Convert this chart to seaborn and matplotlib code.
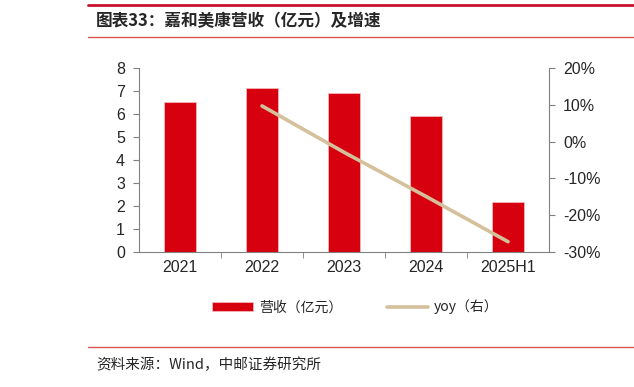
import numpy as np
import pandas as pd
import seaborn as sns
import matplotlib.pyplot as plt
from matplotlib.patches import Patch
from matplotlib.lines import Line2D
from matplotlib.ticker import PercentFormatter

# Data
years = ['2021', '2022', '2023', '2024', '2025H1']
revenue = [6.51, 7.14, 6.93, 5.90, 2.17]           # 营收（亿元）
yoy = [np.nan, 9.7, -2.9, -14.9, -27.2]             # 增速 %

sns.set_style('white')
plt.rcParams['font.family'] = ['Liberation Sans', 'Noto Sans CJK SC', 'DejaVu Sans']
plt.rcParams['axes.unicode_minus'] = False

df = pd.DataFrame({'year': years, 'revenue': revenue, 'yoy': yoy, 'pos': range(len(years))})

bar_color = '#D7000F'
line_color = '#D4C09A'
axis_color = '#808080'

fig = plt.figure(figsize=(6.34, 3.87), dpi=100)
ax = fig.add_axes([139 / 634, 1 - 252 / 387, 410 / 634, 184 / 387])

sns.barplot(data=df, x='year', y='revenue', color=bar_color, width=0.4,
            edgecolor='#F4B6B9', linewidth=0.6, saturation=1, ax=ax)
ax.set_xlim(-0.5, len(years) - 0.5)
ax.set_ylim(0, 8)
ax.set_yticks(range(0, 9))
ax.set_xlabel('')
ax.set_ylabel('')

ax2 = ax.twinx()
sns.lineplot(data=df.dropna(), x='pos', y='yoy', color=line_color, linewidth=2.6, ax=ax2)
ax2.set_ylim(-30, 20)
ax2.set_yticks(range(-30, 21, 10))
ax2.yaxis.set_major_formatter(PercentFormatter(decimals=0))
ax2.set_xlabel('')
ax2.set_ylabel('')
ax2.set_xlim(-0.5, len(years) - 0.5)

# spines and ticks
for a in (ax, ax2):
    a.spines['top'].set_visible(False)
    for s in ('left', 'right', 'bottom'):
        a.spines[s].set_color(axis_color)
        a.spines[s].set_linewidth(0.8)
ax.spines['right'].set_visible(False)
ax2.spines['left'].set_visible(False)
ax2.spines['bottom'].set_visible(False)

ax.tick_params(axis='y', direction='out', length=4, color=axis_color, labelsize=11.5, pad=6, left=True)
ax2.tick_params(axis='y', direction='out', length=4, color=axis_color, labelsize=11.5, pad=6, right=True)
ax.tick_params(axis='x', which='major', length=0, labelsize=11.5, pad=6)
ax.set_xticks(np.arange(0.5, len(years) - 1, 1), minor=True)
ax.tick_params(axis='x', which='minor', direction='out', length=4, color=axis_color, bottom=True)

# legend
handles = [Patch(facecolor=bar_color, edgecolor='#F4B6B9', linewidth=0.6),
           Line2D([0], [0], color=line_color, linewidth=2.6)]
labels = ['营收（亿元）', 'yoy（右）']
fig.legend(handles, labels, loc='center', bbox_to_anchor=(355 / 634, 1 - 307 / 387), ncol=2,
           frameon=False, handlelength=3.0, handleheight=0.7,
           columnspacing=3.2, handletextpad=0.4,
           prop={'family': ['Noto Sans CJK SC', 'DejaVu Sans'], 'size': 10})

# header and footer decorations
fig.add_artist(Line2D([88 / 634, 1], [1 - 5 / 387] * 2, color='#C8102E', linewidth=2))
fig.add_artist(Line2D([88 / 634, 1], [1 - 37 / 387] * 2, color='#D9534F', linewidth=1))
fig.add_artist(Line2D([88 / 634, 1], [1 - 347 / 387] * 2, color='#D9534F', linewidth=1))
fig.text(96 / 634, 1 - 21 / 387, '图表33：嘉和美康营收（亿元）及增速', fontsize=12,
         fontweight='bold', va='center', ha='left',
         family=['Noto Sans CJK SC', 'DejaVu Sans'])
fig.text(96 / 634, 1 - 365 / 387, '资料来源：Wind，中邮证券研究所', fontsize=10.5,
         va='center', ha='left', family=['Noto Sans CJK SC', 'DejaVu Sans'])

fig.savefig('out.png', dpi=100)
